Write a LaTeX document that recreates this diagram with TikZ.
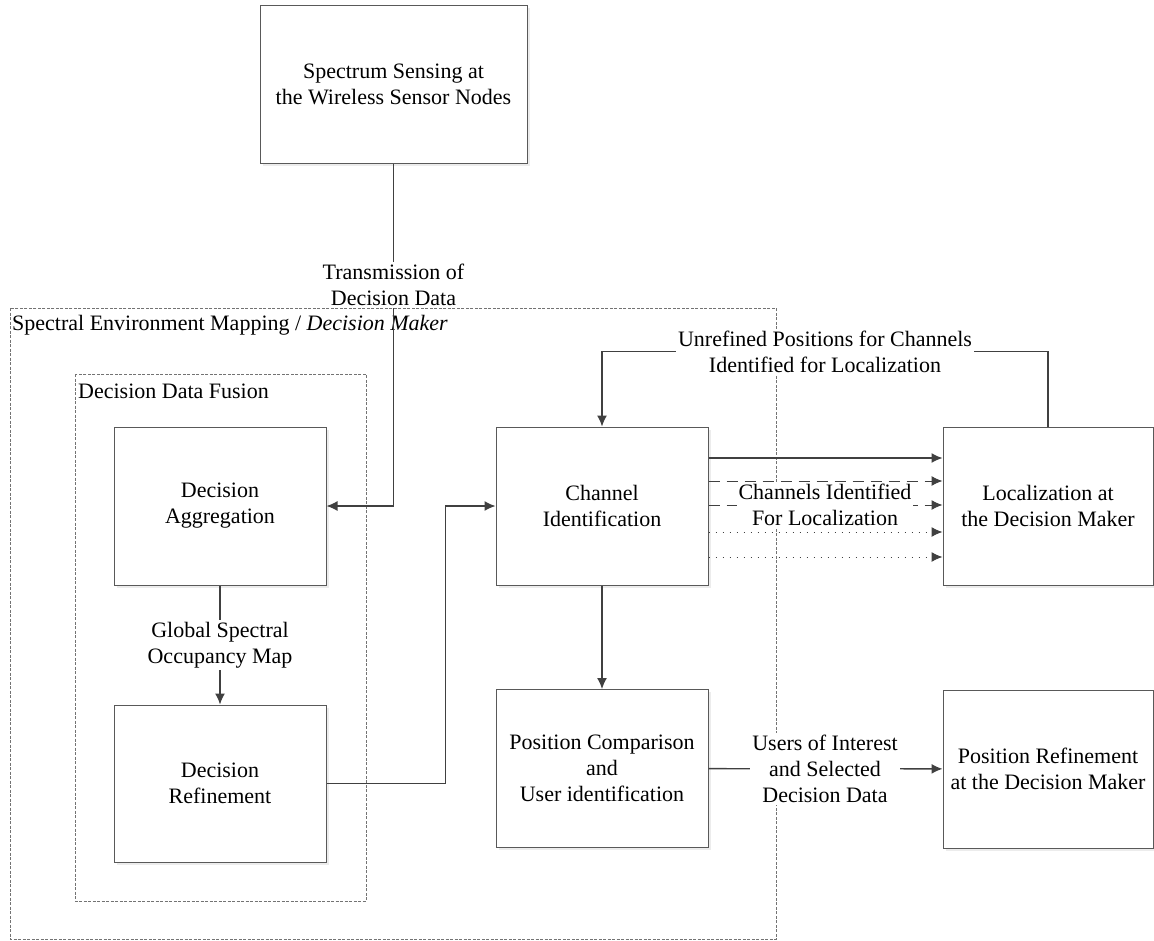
\documentclass[tikz,border=0pt]{standalone}
\usepackage{fontspec}
\setmainfont{Liberation Serif}
\usetikzlibrary{arrows.meta,shadows}
\tikzset{>={Latex[length=11pt,width=10pt]}}
\tikzset{
  block/.style={draw=black!65,line width=1pt,fill=white,align=center,
    minimum width=212pt,minimum height=158pt,inner sep=0pt,
    drop shadow={opacity=0.15,shadow xshift=2.5pt,shadow yshift=-2.5pt}},
  conn/.style={->,draw=black!75,line width=1.3pt},
  lbl/.style={fill=white,align=center,inner sep=2pt},
  region/.style={draw=black!55,dash pattern=on 3pt off 1.5pt,line width=0.8pt}
}

\begin{document}
\begin{tikzpicture}[x=1pt,y=-1pt,font=\fontsize{22}{26}\selectfont]
            \useasboundingbox (0,0) rectangle (1154,940);
            \draw[region] (10,308) rectangle (776,939);
            \draw[region] (75,374) rectangle (366,901);
            \node[anchor=west,inner sep=0pt] (envlbl) at (12,325) {Spectral Environment Mapping / \textit{Decision Maker}};
            \node[anchor=west,inner sep=0pt] (fuslbl) at (78,391) {Decision Data Fusion};
            \node[block,minimum width=267pt] (sense) at (393.5,84) {Spectrum Sensing at\\the Wireless Sensor Nodes};
            \node[block] (agg) at (220,506) {Decision\\Aggregation};
            \node[block,minimum height=157pt] (refine) at (220,783.5) {Decision\\Refinement};
            \node[block] (chan) at (602,506) {Channel\\Identification};
            \node[block] (poscomp) at (602,768.5) {Position Comparison\\and\\User identification};
            \node[block,minimum width=210pt] (loc) at (1048,506) {Localization at\\the Decision Maker};
            \node[block,minimum width=210pt] (posref) at (1048,769) {Position Refinement\\at the Decision Maker};
            \draw[conn] (sense.south) |- (agg.east);
            \draw[conn] (agg) -- (refine);
            \draw[conn] (refine.east) -- ++(119,0) |- (chan.west);
            \draw[conn] (chan) -- (poscomp);
            \draw[conn] (poscomp) -- (posref);
            \draw[conn] (loc.north) -- ++(0,-75) -| (chan.north);
            \draw[conn] ([yshift=48pt]chan.east) -- ([yshift=48pt]loc.west);
            \draw[conn,line width=1pt,dash pattern=on 11pt off 7pt] ([yshift=25pt]chan.east) -- ([yshift=25pt]loc.west);
            \draw[conn,line width=1pt,dash pattern=on 11pt off 7pt] ([yshift=1pt]chan.east) -- ([yshift=1pt]loc.west);
            \draw[conn,line width=1pt,dash pattern=on 1pt off 6pt] ([yshift=-26pt]chan.east) -- ([yshift=-26pt]loc.west);
            \draw[conn,line width=1pt,dash pattern=on 1pt off 6pt] ([yshift=-51pt]chan.east) -- ([yshift=-51pt]loc.west);
            \node[lbl] (txlbl) at (393.5,285) {Transmission of\\Decision Data};
            \node[lbl] (maplbl) at (220,645) {Global Spectral\\Occupancy Map};
            \node[lbl] (unreflbl) at (825,352) {Unrefined Positions for Channels\\Identified for Localization};
            \node[lbl] (idlbl) at (825,505) {Channels Identified\\For Localization};
            \node[lbl] (userlbl) at (825,769) {Users of Interest\\and Selected\\Decision Data};
        \end{tikzpicture}
\end{document}
